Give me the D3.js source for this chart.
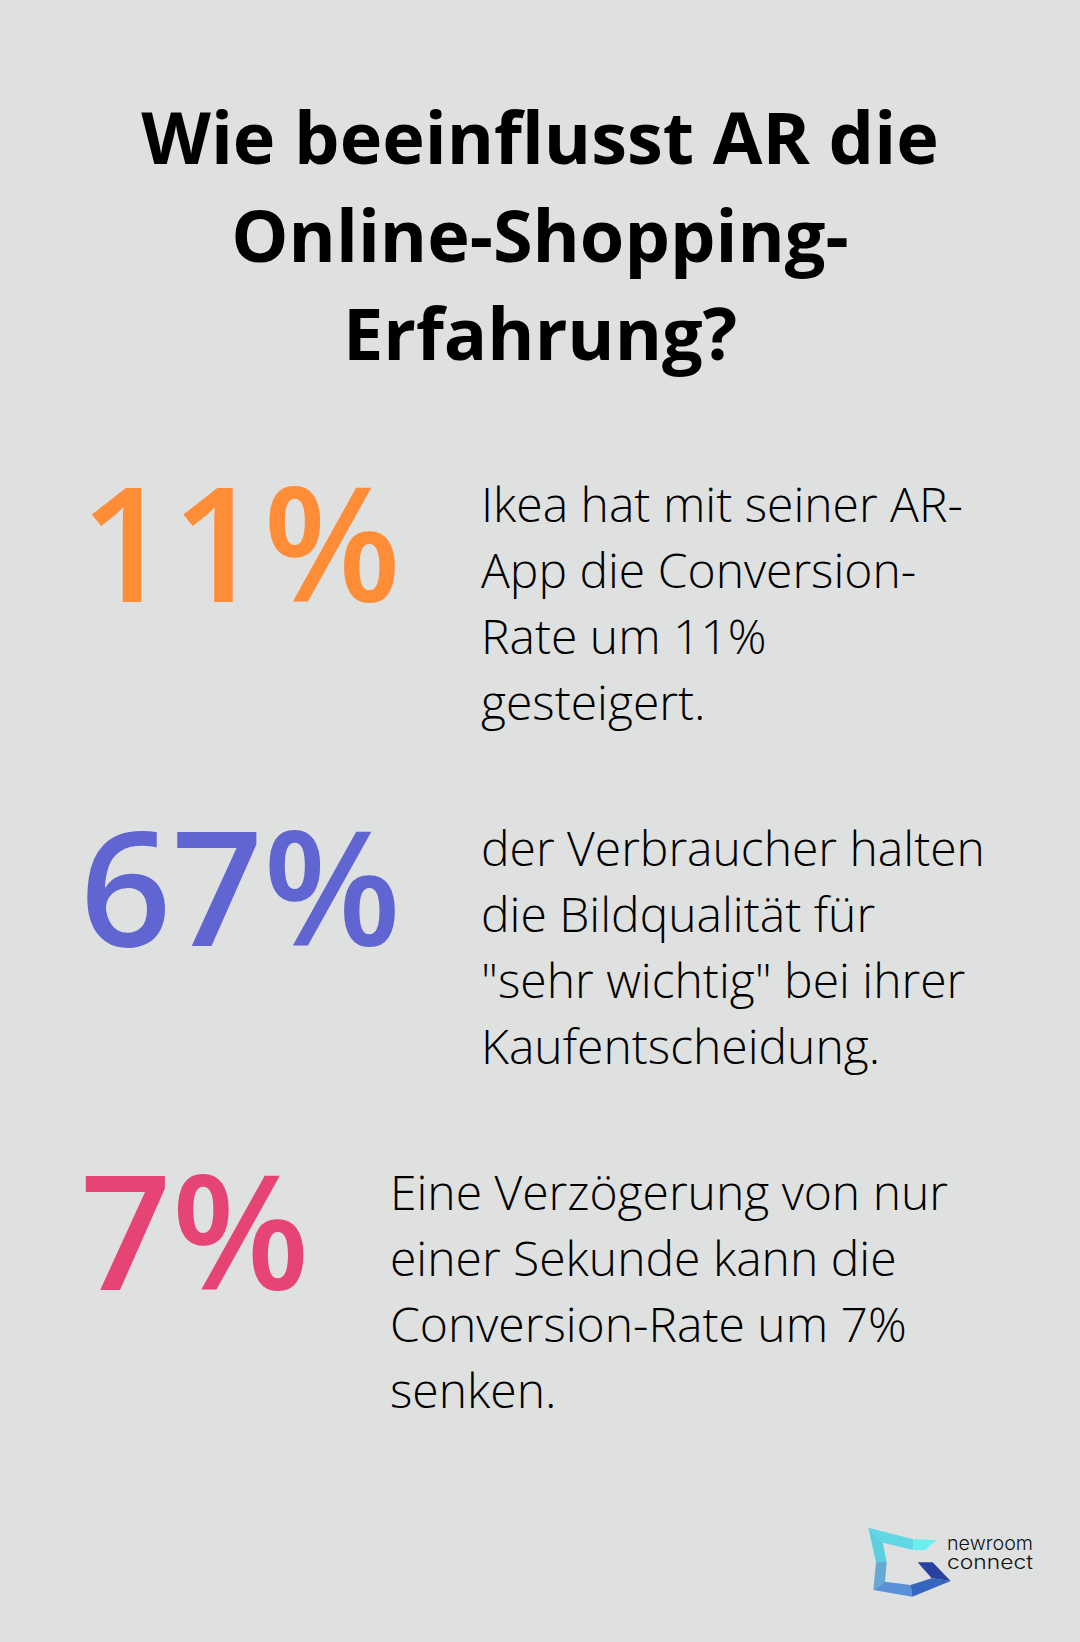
<!DOCTYPE html>
<html>
<head>
<meta charset="utf-8">
<script src="https://cdn.jsdelivr.net/npm/d3@7"></script>
<style>
  html, body { margin: 0; padding: 0; background: #dfe1e1; }
  svg { display: block; }
  text { font-family: "Open Sans", sans-serif; }
</style>
</head>
<body>
<div id="chart"></div>
<script>
const width = 1080;
const height = 1642;

// Chart content
const titleLines = ["Wie beeinflusst AR die", "Online-Shopping-", "Erfahrung?"];
const statValues = ["11%", "67%", "7%"];
const statColors = ["#ff8c37", "#6065d1", "#e54475"];
const statTexts = [
    ["Ikea hat mit seiner AR-", "App die Conversion-", "Rate um 11%", "gesteigert."],
    ["der Verbraucher halten", "die Bildqualität für", "\"sehr wichtig\" bei ihrer", "Kaufentscheidung."],
    ["Eine Verzögerung von nur", "einer Sekunde kann die", "Conversion-Rate um 7%", "senken."]
];
const logoLines = ["newroom", "connect"];

const svg = d3.select("#chart")
    .append("svg")
    .attr("width", width)
    .attr("height", height)
    .attr("viewBox", `0 0 ${width} ${height}`);

svg.append("rect")
    .attr("width", width)
    .attr("height", height)
    .attr("fill", "#dfe1e1");

// Title
svg.append("g")
    .selectAll("text")
    .data(titleLines)
    .enter().append("text")
    .attr("x", 540)
    .attr("y", (d, i) => 164 + i * 98)
    .attr("text-anchor", "middle")
    .attr("font-size", 72)
    .attr("font-weight", 700)
    .attr("fill", "#000")
    .text(d => d);

// Stat rows
const rowY = d3.scaleLinear().domain([0, 1]).range([0, 344]);

const rows = svg.selectAll(".stat")
    .data(statValues)
    .enter().append("g")
    .attr("class", "stat")
    .attr("transform", (d, i) => `translate(0,${rowY(i)})`);

rows.append("text")
    .attr("x", 80)
    .attr("y", 602)
    .attr("font-size", 160)
    .attr("font-weight", 600)
    .attr("fill", (d, i) => statColors[i])
    .text(d => d);

rows.each(function(d, i) {
    const textX = i === 2 ? 390 : 481;
    d3.select(this).selectAll(".line")
        .data(statTexts[i])
        .enter().append("text")
        .attr("class", "line")
        .attr("x", textX)
        .attr("y", (t, j) => 522 + j * 66)
        .attr("font-size", 48)
        .attr("font-weight", 300)
        .attr("fill", "#000")
        .text(t => t);
});

// Logo
const logoPieces = [
    { color: "#5fd8e4", points: [[85,83],[220,118],[220,150],[128,128]] },
    { color: "#6deeee", points: [[220,118],[290,120],[255,150],[220,150]] },
    { color: "#5ccfe0", points: [[85,83],[128,128],[140,185],[108,187]] },
    { color: "#64a9d4", points: [[108,187],[140,185],[135,245],[100,270]] },
    { color: "#5a90d8", points: [[100,270],[135,245],[212,255],[217,290]] },
    { color: "#3566bf", points: [[212,255],[275,235],[332,243],[217,290]] },
    { color: "#2a429f", points: [[233,187],[278,187],[332,243],[275,235]] }
];

const logo = svg.append("g")
    .attr("transform", "translate(840,1500) scale(0.3333)");

logo.selectAll("polygon")
    .data(logoPieces)
    .enter().append("polygon")
    .attr("points", d => d.points.join(" "))
    .attr("fill", d => d.color);

// Both logo lines sit in one text element, they are set tighter than the font's line box
svg.append("text")
    .style("font-family", "Inter, sans-serif")
    .attr("font-size", 19.5)
    .attr("font-weight", 300)
    .attr("fill", "#111")
    .selectAll("tspan")
    .data(logoLines)
    .enter().append("tspan")
    .attr("x", 947)
    .attr("y", (d, i) => 1550 + i * 19)
    .attr("textLength", 86)
    .attr("lengthAdjust", "spacingAndGlyphs")
    .text(d => d);
</script>
</body>
</html>
